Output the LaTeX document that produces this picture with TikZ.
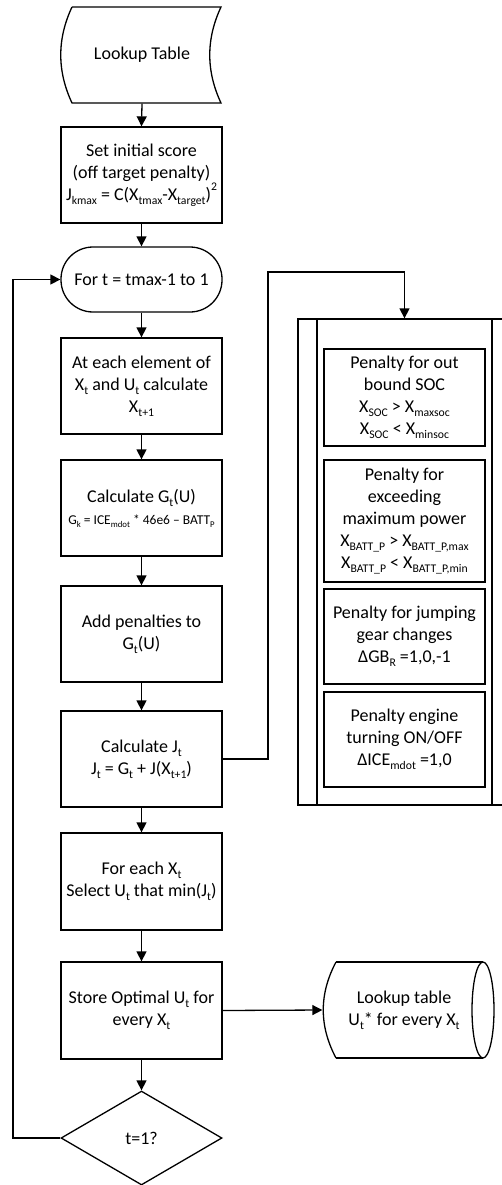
\documentclass[tikz,border=0pt]{standalone}
\usepackage{fontspec}
\usepackage{graphicx}
\setmainfont{Carlito}
\usetikzlibrary{arrows.meta,shapes.geometric}
\newcommand\sbs[1]{\raisebox{-0.22em}{\scalebox{0.65}{#1}}}
\newcommand\sps[1]{\raisebox{0.55em}{\scalebox{0.65}{#1}}}
\begin{document}
\begin{tikzpicture}[x=1pt,y=-1pt,
  line width=1.3pt,
  txt/.style={align=center, inner sep=0pt, font=\fontsize{18}{22}\selectfont},
  box/.style={txt, draw, rectangle, minimum width=161pt},
  arr/.style={-{Triangle[length=10pt,width=10pt]}},
]
\useasboundingbox (0,0) rectangle (502,1185);
\clip (-1,-1) rectangle (503,1186);

% Lookup Table (stored data)
\draw (72,7) -- (221,7) .. controls (206,39) and (206,71) .. (221,103)
      -- (72,103) .. controls (57,71) and (57,39) .. (72,7);
\node[txt, minimum width=150pt, minimum height=96pt] (lut) at (142,55) {Lookup Table};

\node[box, minimum height=96pt] (init) at (141.5,175)
  {Set initial score\\(off target penalty)\\J\sbs{kmax} = C(X\sbs{tmax}-X\sbs{target})\sps{2}};
\node[box, minimum height=65pt, rounded corners=32pt] (term) at (141.5,279.5) {For t = tmax-1 to 1};
\node[box, minimum height=96pt] (elem) at (141.5,386)
  {At each element of\\X\sbs{t} and U\sbs{t} calculate\\X\sbs{t+1}};
\node[box, minimum height=96pt] (calcG) at (141.5,508)
  {Calculate G\sbs{t}(U)\\{\fontsize{13.5}{20}\selectfont G\sbs{k} = ICE\sbs{mdot} * 46e6 – BATT\sbs{P}}};
\node[box, minimum height=96pt] (addpen) at (141.5,634) {Add penalties to\\G\sbs{t}(U)};
\node[box, minimum height=96pt] (calcJ) at (141.5,759)
  {Calculate J\sbs{t}\\J\sbs{t} = G\sbs{t} + J(X\sbs{t+1})};
\node[box, minimum height=97pt] (foreach) at (141.5,881.5)
  {For each X\sbs{t}\\Select U\sbs{t} that min(J\sbs{t})};
\node[box, minimum height=97pt] (store) at (141.5,1010.5)
  {Store Optimal U\sbs{t} for\\every X\sbs{t}};
\node[txt, draw, diamond, aspect=1.713, minimum width=161pt, minimum height=94pt] (dec) at (141.5,1138) {t=1?};

% predefined process frame
\node[draw, rectangle, minimum width=213pt, minimum height=486pt, inner sep=0pt] (pen) at (404.5,562) {};
\draw (317,319) -- (317,805);
\draw (492,319) -- (492,805);
\node[box, minimum height=97pt] (p1) at (404.5,397.5)
  {Penalty for out\\bound SOC\\X\sbs{SOC} > X\sbs{maxsoc}\\X\sbs{SOC} < X\sbs{minsoc}};
\node[box, minimum height=122pt] (p2) at (404.5,521)
  {Penalty for\\exceeding\\maximum power\\X\sbs{BATT\_P} > X\sbs{BATT\_P,max}\\X\sbs{BATT\_P} < X\sbs{BATT\_P,min}};
\node[box, minimum height=95pt] (p3) at (404.5,636.5)
  {Penalty for jumping\\gear changes\\ΔGB\sbs{R} =1,0,-1};
\node[box, minimum height=95pt] (p4) at (404.5,739.5)
  {Penalty engine\\turning ON/OFF\\ΔICE\sbs{mdot} =1,0};

% output lookup table (stored data, horizontal cylinder)
\draw (336,962) -- (483,962);
\draw (336,1058) -- (483,1058);
\draw (336,962) .. controls (319,994) and (319,1026) .. (336,1058);
\draw (483,1010) ellipse [x radius=11pt, y radius=48pt];
\node[txt, minimum width=162pt, minimum height=96pt] (lut2) at (404,1010)
  {Lookup table\\U\sbs{t}* for every X\sbs{t}};

% connectors
\draw[arr] (lut.south) -- (init.north);
\draw[arr] (init.south) -- (term.north);
\draw[arr] (term.south) -- (elem.north);
\draw[arr] (elem.south) -- (calcG.north);
\draw[arr] (calcG.south) -- (addpen.north);
\draw[arr] (addpen.south) -- (calcJ.north);
\draw[arr] (calcJ.south) -- (foreach.north);
\draw[arr] (foreach.south) -- (store.north);
\draw[arr] (store.south) -- (dec.north);
\draw[arr] (store.east) -- (lut2.west);
\coordinate (c1) at (268,272);
\draw[arr] (calcJ.east) -| (c1) -| (pen.north);
\coordinate (c2) at (13,1138);
\draw[arr] (dec.west) -- (c2) |- (term.west);
\end{tikzpicture}
\end{document}
